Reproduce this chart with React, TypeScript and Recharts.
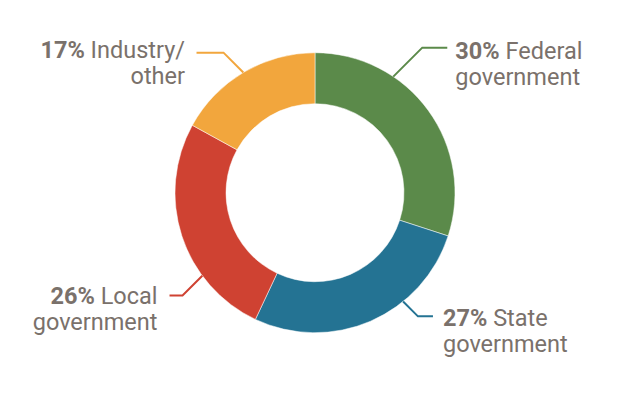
import { Pie, PieChart, Cell } from "recharts";

const categories = ["Federal\ngovernment", "State\ngovernment", "Local\ngovernment", "Industry/\nother"];
const shares = [30, 27, 26, 17];
const colors = ["#5b8a4a", "#247393", "#cf4232", "#f2a63d"];

const data = categories.map((name, i) => ({ name, value: shares[i] }));

// leader line geometry per slice: angle on the rim, diagonal run, flat run, text offset
const leaders = [
  { angle: 56, diag: 41, flat: 25, tx: 8, ty: 11.5 },
  { angle: 309, diag: 21, flat: 15, tx: 10, ty: 10 },
  { angle: 216.4, diag: 28, flat: 13, tx: -12, ty: 8.5 },
  { angle: 120.8, diag: 28, flat: 27, tx: -11.5, ty: 5.5 },
];

const TEXT = "#7a716b";
const RAD = Math.PI / 180;

function renderLabel(props: any) {
  const { cx, cy, outerRadius, index } = props;
  const l = leaders[index];
  const x0 = cx + outerRadius * Math.cos(l.angle * RAD);
  const y0 = cy - outerRadius * Math.sin(l.angle * RAD);
  const sx = Math.cos(l.angle * RAD) >= 0 ? 1 : -1;
  const sy = Math.sin(l.angle * RAD) >= 0 ? -1 : 1;
  const d = l.diag / Math.SQRT2;
  const x1 = x0 + sx * d;
  const y1 = y0 + sy * d;
  const x2 = x1 + sx * l.flat;
  const tx = x2 + l.tx;
  const ty = y1 + l.ty;
  const [line1, line2] = categories[index].split("\n");
  const anchor = sx > 0 ? "start" : "end";
  return (
    <g key={`lbl-${index}`}>
      <polyline
        points={`${x0},${y0} ${x1},${y1} ${x2},${y1}`}
        fill="none"
        stroke={colors[index]}
        strokeWidth={2}
      />
      <text x={tx} y={ty} textAnchor={anchor} fill={TEXT} fontSize={23.5} fontFamily="Roboto">
        <tspan fontWeight={700}>{shares[index]}%</tspan>
        <tspan> {line1}</tspan>
        <tspan x={tx} dy={25.5}>{line2}</tspan>
      </text>
    </g>
  );
}

export default function App() {
  return (
    <div style={{ position: "absolute", left: 0, top: 0, width: 626, height: 398, background: "#fff" }}>
      <PieChart width={626} height={398} margin={{ top: 0, right: 0, bottom: 0, left: 0 }}>
        <Pie
          data={data}
          dataKey="value"
          nameKey="name"
          cx={315}
          cy={192.7}
          innerRadius={89}
          outerRadius={140}
          startAngle={90}
          endAngle={-270}
          stroke="#ffffff"
          strokeWidth={0.5}
          label={renderLabel}
          labelLine={false}
          isAnimationActive={false}
        >
          {data.map((d, i) => (
            <Cell key={d.name} fill={colors[i]} />
          ))}
        </Pie>
      </PieChart>
    </div>
  );
}
